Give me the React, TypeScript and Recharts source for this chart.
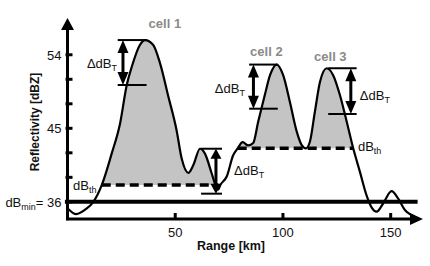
import { ComposedChart, Line, Area, XAxis, YAxis, ReferenceLine, ReferenceDot, Label } from 'recharts';

// curve: range (km) vs reflectivity (dBZ)
const rangeKm = [
  0.5, 4, 8.5, 12, 15.9, 20.5, 24.4, 27.5, 29.8, 33.6, 36, 39.8, 42.9, 46.8, 50.6, 53, 56.1, 58.4,
  61.5, 63.8, 66.9, 68.7, 69.9, 71, 73.9, 76.9, 79, 81.3, 83.9, 86.2, 88.5, 91.6, 94, 97.1, 100.1,
  103.2, 106.4, 108.7, 110.7, 112.5, 114.8, 117.2, 120.3, 123.3, 126.4, 129.6, 132.6, 135.7, 138.8,
  141.2, 143.5, 146.5, 150.4, 153.5, 156.6, 159.5, 161.5,
];
const reflectivity = [
  35.1, 34.5, 35.1, 36, 38.05, 41.9, 45.6, 50.3, 52.5, 55.2, 55.8, 55.2, 53, 48.9, 44.8, 41.3, 39.55, 40.5,
  42.5, 41.9, 39.5, 38.05, 37.5, 38.1, 39.1, 41.7, 42.55, 43.3, 42.9, 43.2, 45.8, 49.1, 51.5, 52.8, 51.5,
  48.25, 44.6, 42.95, 42.55, 43.35, 47, 50.7, 52.35, 51.5, 49.1, 45.8, 42.55, 39.7, 36.8,
  35.3, 34.8, 35.8, 37.3, 36.4, 35, 34.4, 34.1,
];

const xTicks = [50, 100, 150];
const yTicks = [36, 39, 42, 45, 48, 51, 54];
const yLabelled = [45, 54];

const DB_MIN = 36;
const DB_TH_1 = 38.05;
const DB_TH_2 = 42.55;
const cell1Span = [15.9, 68.7];
const cell23Span = [79, 132.6];
const th1Span = [15.9, 70];
const th2Span = [79, 132.6];

// ΔdB_T arrows: where, from peak down to the threshold value
const deltaArrows = [
  { km: 25.75, top: 55.8, bottom: 50.3, from: 23.3, to: 36.7 },
  { km: 68.9, top: 42.5, bottom: 37.0, from: 62, to: 71.7 },
  { km: 86.3, top: 52.8, bottom: 47.4, from: 84.3, to: 97.6 },
  { km: 131.5, top: 52.35, bottom: 46.75, from: 121, to: 134.2 },
];
const deltaLabels = [
  { km: 9.0, db: 52.4 },
  { km: 77.3, db: 39.3 },
  { km: 68.4, db: 49.3 },
  { km: 135.7, db: 48.5 },
];
const cellNames = ['cell 1', 'cell 2', 'cell 3'];
const cellNameAt = [
  { km: 45.2, db: 57.3 },
  { km: 92.3, db: 53.85 },
  { km: 122.0, db: 53.25 },
];
const thLabels = [
  { km: 2.6, db: 37.4 },
  { km: 134.8, db: 42.2 },
];

const X_MAX = 165;
const Y_MIN = 33.9;
const Y_MAX = 58.5;

const FONT = '"Liberation Sans", Arial, Helvetica, sans-serif';
const INK = '#111';
const SHADE = '#c4c4c4';

const data = rangeKm.map((km, i) => {
  const v = reflectivity[i];
  return {
    km,
    dbz: v,
    shade1: km >= cell1Span[0] && km <= cell1Span[1] ? v : null,
    shade23: km >= cell23Span[0] && km <= cell23Span[1] ? v : null,
  };
});

// line with arrow head(s), used for axes and ΔdB_T markers
const arrowShape = (width: number, both: boolean, hw: number, hl: number) => (p: any) => {
  const { x1, y1, x2, y2 } = p;
  const len = Math.hypot(x2 - x1, y2 - y1) || 1;
  const ux = (x2 - x1) / len;
  const uy = (y2 - y1) / len;
  const head = (tx: number, ty: number, dx: number, dy: number) => {
    const bx = tx - dx * hl;
    const by = ty - dy * hl;
    return `${tx},${ty} ${bx - dy * hw},${by + dx * hw} ${bx + dy * hw},${by - dx * hw}`;
  };
  const sx = both ? x1 + ux * (hl - 2) : x1;
  const sy = both ? y1 + uy * (hl - 2) : y1;
  return (
    <g>
      <line x1={sx} y1={sy} x2={x2 - ux * (hl - 2)} y2={y2 - uy * (hl - 2)} stroke="#000" strokeWidth={width} />
      <polygon points={head(x2, y2, ux, uy)} fill="#000" />
      {both && <polygon points={head(x1, y1, -ux, -uy)} fill="#000" />}
    </g>
  );
};

const YTick = (props: any) => {
  const { x, y, payload } = props;
  const v = payload.value;
  return (
    <g>
      <line x1={x - 2} x2={x + 5} y1={y} y2={y} stroke="#000" strokeWidth={3} />
      {v === DB_MIN && (
        <text x={x - 6} y={y + 5} textAnchor="end" fontSize={13} fontFamily={FONT} fill={INK}>
          dB<tspan fontSize={9} dy={3}>min</tspan>
          <tspan dy={-3}>= {v}</tspan>
        </text>
      )}
      {yLabelled.includes(v) && (
        <text x={x - 6} y={y + 5} textAnchor="end" fontSize={13} fontFamily={FONT} fill={INK}>
          {v}
        </text>
      )}
    </g>
  );
};

const XTick = (props: any) => {
  const { x, y, payload } = props;
  return (
    <g>
      <line x1={x} x2={x} y1={y - 6} y2={y} stroke="#000" strokeWidth={3} />
      <text x={x} y={y + 18} textAnchor="middle" fontSize={13} fontFamily={FONT} fill={INK}>
        {payload.value}
      </text>
    </g>
  );
};

const deltaText = (p: any) => (
  <text x={p.cx} y={p.cy} fontSize={13} fontFamily={FONT} fill={INK}>
    ΔdB<tspan fontSize={9} dy={3}>T</tspan>
  </text>
);

const thText = (p: any) => (
  <text x={p.cx} y={p.cy} fontSize={13} fontFamily={FONT} fill={INK}>
    dB<tspan fontSize={9} dy={3}>th</tspan>
  </text>
);

const cellText = (name: string) => (p: any) => (
  <text x={p.cx} y={p.cy} textAnchor="middle" fontSize={13} fontWeight="bold" fontFamily={FONT} fill="#8a8a8a">
    {name}
  </text>
);

const App = () => {
  return (
    <div style={{ position: 'absolute', left: 0, top: 0, width: 430, height: 266, background: '#fff' }}>
      <ComposedChart width={430} height={266} data={data} margin={{ top: 18, right: 7, bottom: 27, left: 47.5 }}>
        <XAxis
          type="number"
          dataKey="km"
          domain={[0, X_MAX]}
          ticks={xTicks}
          interval={0}
          allowDataOverflow
          axisLine={false}
          tickLine={false}
          tickSize={0}
          tickMargin={0}
          height={20}
          tick={<XTick />}
        >
          <Label
            content={(p: any) => (
              <text
                x={p.viewBox.x + 163.5}
                y={p.viewBox.y + 31}
                textAnchor="middle"
                fontSize={12.5}
                fontWeight="bold"
                fontFamily={FONT}
                fill={INK}
              >
                Range [km]
              </text>
            )}
          />
        </XAxis>
        <YAxis
          type="number"
          domain={[Y_MIN, Y_MAX]}
          ticks={yTicks}
          interval={0}
          allowDataOverflow
          axisLine={false}
          tickLine={false}
          tickSize={0}
          tickMargin={0}
          width={20}
          tick={<YTick />}
        >
          <Label
            content={(p: any) => {
              const cx = 34;
              const cy = p.viewBox.y + 104;
              return (
                <text
                  x={cx}
                  y={cy}
                  dy={4.5}
                  transform={`rotate(-90 ${cx} ${cy})`}
                  textAnchor="middle"
                  fontSize={12}
                  fontWeight="bold"
                  fontFamily={FONT}
                  fill={INK}
                >
                  Reflectivity [dBZ]
                </text>
              );
            }}
          />
        </YAxis>

        <Area
          dataKey="shade1"
          type="monotone"
          baseValue={DB_TH_1}
          fill={SHADE}
          fillOpacity={1}
          stroke="none"
          dot={false}
          activeDot={false}
          isAnimationActive={false}
        />
        <Area
          dataKey="shade23"
          type="monotone"
          baseValue={DB_TH_2}
          fill={SHADE}
          fillOpacity={1}
          stroke="none"
          dot={false}
          activeDot={false}
          isAnimationActive={false}
        />

        <ReferenceLine
          segment={[{ x: th1Span[0], y: DB_TH_1 }, { x: th1Span[1], y: DB_TH_1 }]}
          stroke="#000"
          strokeWidth={3.5}
          strokeDasharray="9 5"
          ifOverflow="visible"
        />
        <ReferenceLine
          segment={[{ x: th2Span[0], y: DB_TH_2 }, { x: th2Span[1], y: DB_TH_2 }]}
          stroke="#000"
          strokeWidth={3.5}
          strokeDasharray="9 5"
          ifOverflow="visible"
        />
        <ReferenceLine
          segment={[{ x: -1.2, y: DB_MIN }, { x: 162.5, y: DB_MIN }]}
          stroke="#000"
          strokeWidth={4}
          ifOverflow="visible"
        />

        <Line
          dataKey="dbz"
          type="monotone"
          stroke="#000"
          strokeWidth={2.2}
          dot={false}
          activeDot={false}
          isAnimationActive={false}
        />

        {/* axes with arrow heads */}
        <ReferenceLine
          segment={[{ x: -0.7, y: Y_MIN }, { x: X_MAX, y: Y_MIN }]}
          ifOverflow="visible"
          shape={arrowShape(3, false, 6, 13)}
        />
        <ReferenceLine
          segment={[{ x: 0, y: Y_MIN - 0.15 }, { x: 0, y: Y_MAX }]}
          ifOverflow="visible"
          shape={arrowShape(3, false, 6.5, 12)}
        />

        {deltaArrows.map((a, i) => (
          <ReferenceLine
            key={`top-${i}`}
            segment={[{ x: a.from, y: a.top }, { x: a.to, y: a.top }]}
            stroke="#000"
            strokeWidth={2}
            ifOverflow="visible"
          />
        ))}
        {deltaArrows.map((a, i) => (
          <ReferenceLine
            key={`bot-${i}`}
            segment={[{ x: a.from, y: a.bottom }, { x: a.to, y: a.bottom }]}
            stroke="#000"
            strokeWidth={2}
            ifOverflow="visible"
          />
        ))}
        {deltaArrows.map((a, i) => (
          <ReferenceLine
            key={`arr-${i}`}
            segment={[{ x: a.km, y: a.top }, { x: a.km, y: a.bottom }]}
            ifOverflow="visible"
            shape={arrowShape(3, true, 5.5, i === 1 ? 10 : 13)}
          />
        ))}

        {deltaLabels.map((l, i) => (
          <ReferenceDot key={`dl-${i}`} x={l.km} y={l.db} r={0} ifOverflow="visible" shape={deltaText} />
        ))}
        {thLabels.map((l, i) => (
          <ReferenceDot key={`th-${i}`} x={l.km} y={l.db} r={0} ifOverflow="visible" shape={thText} />
        ))}
        {cellNames.map((n, i) => (
          <ReferenceDot
            key={`cell-${i}`}
            x={cellNameAt[i].km}
            y={cellNameAt[i].db}
            r={0}
            ifOverflow="visible"
            shape={cellText(n)}
          />
        ))}
      </ComposedChart>
    </div>
  );
};

export default App;
